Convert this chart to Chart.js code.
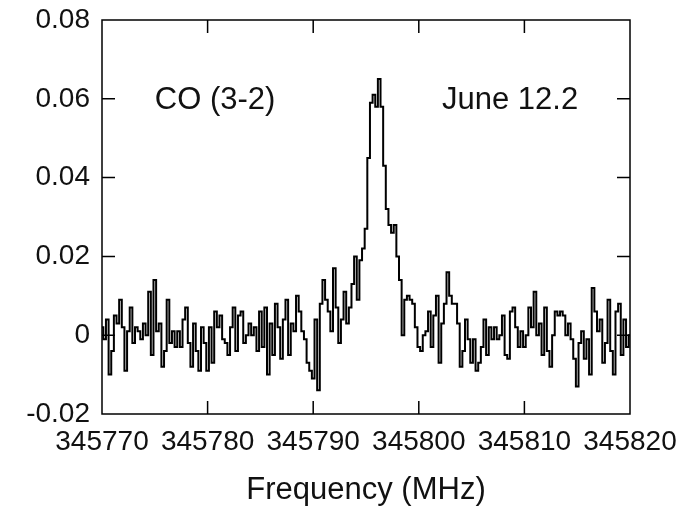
<!DOCTYPE html>
<html>
<head>
<meta charset="utf-8">
<script src="https://cdn.jsdelivr.net/npm/chart.js@4"></script>
<style>
  html, body { margin: 0; padding: 0; background: #fff; }
  canvas { display: block; }
</style>
</head>
<body>
<canvas id="spectrum" width="689" height="509"></canvas>
<script>
// canales del espectro (MHz): inicio y ancho de canal
const startFreq = 345770;
const channelWidth = 0.25;

// intensidad por canal
const intensity = [
  0.002, -0.001, 0.004, -0.010, -0.004, 0.005, 0.003, 0.009, 0.002, -0.009,
  0.001, 0.007, -0.002, 0.002, 0.001, -0.001, 0.003, 0.000, 0.011, -0.005,
  0.014, 0.001, 0.003, -0.008, -0.004, 0.009, -0.002, 0.001, -0.003,
  0.001, -0.003, 0.004, 0.007, -0.002, -0.008, 0.003, -0.004, -0.009, 0.002,
  -0.002, -0.009, 0.002, -0.007, 0.006, 0.002, 0.005, -0.001, -0.002, -0.005,
  0.002, 0.007, -0.004, 0.005, 0.006, -0.002, 0.000, 0.003, 0.000,
  0.002, -0.004, 0.006, -0.003, 0.007, -0.010, 0.003, -0.005, 0.008, 0.002,
  -0.006, 0.004, 0.009, -0.005, 0.003, 0.001, 0.010, 0.006, 0.001, -0.001,
  -0.007, -0.009, -0.011, 0.004, -0.014, 0.008, 0.014, 0.009,
  0.006, 0.001, 0.017, 0.007, -0.002, 0.004, 0.011, 0.003, 0.007, 0.013,
  0.020, 0.009, 0.019, 0.022, 0.027, 0.045, 0.059, 0.061, 0.058, 0.065,
  0.058, 0.043, 0.032, 0.028, 0.026, 0.028, 0.020, 0.014,
  0.000,
  0.009, 0.010, 0.009, 0.008, 0.002, -0.003, -0.004, 0.000, 0.001, 0.006,
  -0.003, 0.005, 0.010, -0.007, 0.003, 0.008, 0.016, 0.010, 0.008, 0.008,
  0.003, -0.008, -0.004, 0.004, -0.001, -0.007, -0.001, -0.009, -0.007, -0.003,
  0.004, -0.005, 0.002, -0.001, 0.002, -0.001, 0.000, 0.005, -0.005, -0.006,
  0.006, 0.007, 0.002, -0.003, 0.001, -0.003, 0.000, 0.007, 0.002, 0.011,
  0.000, 0.003, -0.005, 0.007, -0.004, -0.008, 0.000, 0.006, 0.005,
  0.006, 0.005, 0.000, 0.003, -0.001, -0.006, -0.013, -0.002, 0.001, -0.006,
  -0.001, -0.010, 0.012, 0.006, 0.001, 0.004, -0.007, -0.002, 0.009, -0.004,
  -0.010, 0.006, 0.008, -0.005, 0.004, -0.003, 0.000
];

const frequencies = intensity.map((_, i) => startFreq + i * channelWidth);

// ticks de los ejes
const xTicks = [345770, 345780, 345790, 345800, 345810, 345820];
const yTicks = [-0.02, 0, 0.02, 0.04, 0.06, 0.08];

// rótulos dentro del gráfico
const lineLabel = 'CO (3-2)';
const dateLabel = 'June 12.2';

const FONT = 'Liberation Sans, Arial, Helvetica, sans-serif';

// marco + ticks hacia dentro + textos
const framePlugin = {
    id: 'frame',
    afterDraw(chart) {
        const { ctx, chartArea: a, scales: { x, y } } = chart;
        const len = 13;
        ctx.save();
        ctx.strokeStyle = '#000';
        ctx.lineWidth = 1.5;
        ctx.strokeRect(a.left, a.top, a.right - a.left, a.bottom - a.top);
        ctx.beginPath();
        xTicks.slice(1, -1).forEach(v => {
            const px = x.getPixelForValue(v);
            ctx.moveTo(px, a.bottom); ctx.lineTo(px, a.bottom - len);
            ctx.moveTo(px, a.top); ctx.lineTo(px, a.top + len);
        });
        yTicks.slice(1, -1).forEach(v => {
            const py = y.getPixelForValue(v);
            ctx.moveTo(a.left, py); ctx.lineTo(a.left + len, py);
            ctx.moveTo(a.right, py); ctx.lineTo(a.right - len, py);
        });
        ctx.stroke();

        ctx.fillStyle = '#111';
        ctx.font = '31px ' + FONT;
        ctx.textBaseline = 'middle';
        ctx.textAlign = 'left';
        ctx.fillText(lineLabel, x.getPixelForValue(345775), y.getPixelForValue(0.0595));
        ctx.fillText(dateLabel, x.getPixelForValue(345802.2), y.getPixelForValue(0.0595));
        ctx.restore();
    }
};

new Chart(document.getElementById('spectrum'), {
    type: 'line',
    data: {
        datasets: [{
            data: frequencies.map((f, i) => ({ x: f, y: intensity[i] })),
            borderColor: '#000',
            borderWidth: 2,
            stepped: 'middle',
            pointRadius: 0,
            fill: false
        }]
    },
    options: {
        responsive: false,
        animation: false,
        devicePixelRatio: 1,
        layout: { padding: { top: 20, right: 59, left: 0, bottom: 0 } },
        plugins: { legend: { display: false }, tooltip: { enabled: false } },
        scales: {
            x: {
                type: 'linear',
                min: 345770,
                max: 345820,
                afterBuildTicks: s => { s.ticks = xTicks.map(v => ({ value: v })); },
                afterFit: s => { s.height = 95; s.paddingLeft = 0; s.paddingRight = 0; },
                grid: { display: false, drawTicks: false },
                border: { display: false },
                ticks: {
                    padding: 11,
                    color: '#111',
                    font: { family: FONT, size: 28 },
                    maxRotation: 0,
                    autoSkip: false,
                    callback: v => String(v)
                },
                title: {
                    display: true,
                    text: 'Frequency (MHz)',
                    color: '#111',
                    font: { family: FONT, size: 31 },
                    padding: { top: 0, bottom: 0 }
                }
            },
            y: {
                min: -0.02,
                max: 0.08,
                afterBuildTicks: s => { s.ticks = yTicks.map(v => ({ value: v })); },
                afterFit: s => { s.width = 102; s.paddingTop = 0; s.paddingBottom = 0; },
                grid: { display: false, drawTicks: false },
                border: { display: false },
                ticks: {
                    padding: 12,
                    color: '#111',
                    font: { family: FONT, size: 28 },
                    callback: v => String(+v.toFixed(2))
                }
            }
        }
    },
    plugins: [framePlugin]
});
</script>
</body>
</html>
